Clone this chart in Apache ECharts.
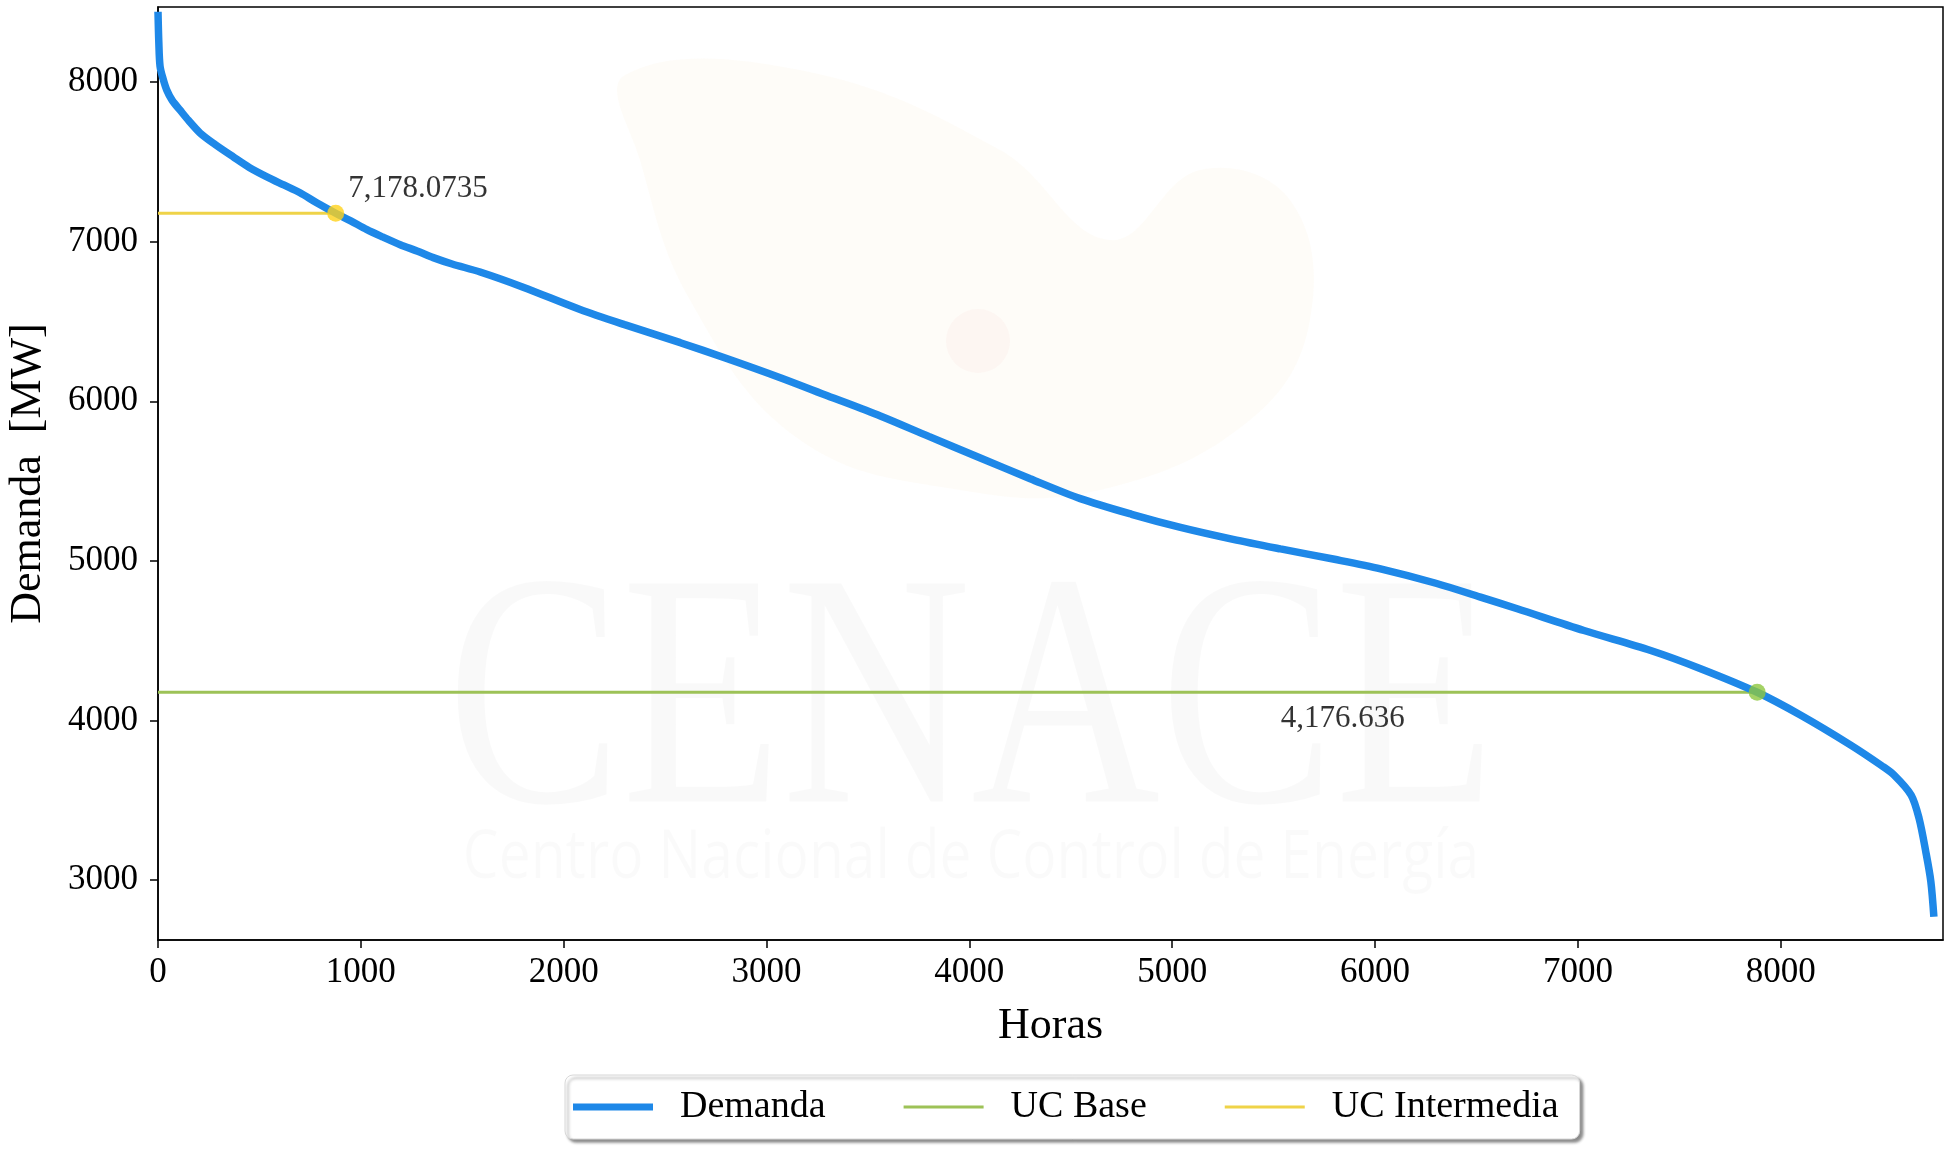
<!DOCTYPE html>
<html lang="es">
<head>
<meta charset="UTF-8">
<title>Curva de duración de la demanda</title>
<script src="https://cdn.jsdelivr.net/npm/echarts@6/dist/echarts.min.js"></script>
<style>
    html, body { margin: 0; padding: 0; background: #fff; }
    #main { width: 1946px; height: 1152px; }
</style>
</head>
<body>
<div id="main"></div>
<script type="text/javascript">
    // datos (horas ordenadas, demanda en MW)
    var horas = [0, 4, 10, 25, 43, 70, 108, 150, 207, 280, 371, 450, 537, 620, 700, 780, 876, 950,
        1030, 1110, 1194, 1280, 1357, 1450, 1588, 1800, 2081, 2300, 2575, 2800, 3068, 3300, 3561,
        3800, 4054, 4300, 4547, 4800, 5041, 5300, 5534, 5800, 6027, 6300, 6520, 6701, 7030, 7359,
        7605, 7884, 8099, 8345, 8500, 8559, 8643, 8682, 8715, 8740, 8755];
    var demanda = [8440, 8250, 8100, 8020, 7950, 7885, 7825, 7760, 7681, 7610, 7531, 7465, 7406, 7355,
        7306, 7245, 7178, 7130, 7075, 7028, 6981, 6940, 6900, 6860, 6810, 6715, 6575, 6480, 6367,
        6270, 6148, 6035, 5908, 5780, 5645, 5515, 5390, 5292, 5210, 5135, 5075, 5010, 4950, 4860,
        4773, 4700, 4564, 4439, 4325, 4177, 4033, 3846, 3715, 3658, 3533, 3387, 3179, 2992, 2770];

    var ucBaseHora = 7884;
    var ucBaseValor = 4176.636;
    var ucIntermediaHora = 876;
    var ucIntermediaValor = 7178.0735;

    var xTicks = [0, 1000, 2000, 3000, 4000, 5000, 6000, 7000, 8000];
    var yTicks = [3000, 4000, 5000, 6000, 7000, 8000];

    var serif = '"Liberation Serif", "DejaVu Serif", serif';

    var curva = [];
    for (var i = 0; i < horas.length; i++) {
        curva.push([horas[i], demanda[i]]);
    }

    function fmt(v) {
        return v.toLocaleString('en-US', {maximumFractionDigits: 4});
    }

    var myChart = echarts.init(document.getElementById('main'));

    var option = {
        animation: false,
        backgroundColor: '#fff',
        grid: {
            left: 158,
            right: 3,
            top: 7,
            bottom: 212,
            show: true,
            borderColor: '#000',
            borderWidth: 1.5,
            outerBoundsMode: 'none'
        },
        // marca de agua CENACE (muy tenue)
        graphic: [
            {
                type: 'polygon', z: -5, silent: true,
                shape: {
                    points: [[625, 75], [800, 70], [1000, 150], [1110, 240], [1200, 170], [1290, 200],
                        [1310, 320], [1250, 420], [1100, 490], [960, 490], [800, 440], [690, 300], [640, 160]],
                    smooth: 0.4
                },
                style: {fill: 'rgba(240,190,120,0.05)'}
            },
            {
                type: 'circle', z: -4, silent: true,
                shape: {cx: 978, cy: 341, r: 32},
                style: {fill: 'rgba(230,140,140,0.05)'}
            },
            {
                type: 'text', z: -5, silent: true,
                x: 971, y: 714, scaleY: 1.27,
                style: {
                    text: 'CENACE', x: 0, y: 0, align: 'center', verticalAlign: 'middle',
                    font: '262px ' + serif, fill: 'rgba(0,0,0,0.022)'
                }
            },
            {
                type: 'text', z: -5, silent: true,
                x: 971, y: 859, scaleY: 1.2,
                style: {
                    text: 'Centro Nacional de Control de Energía', x: 0, y: 0,
                    align: 'center', verticalAlign: 'middle',
                    font: '57px "Open Sans", sans-serif', fill: 'rgba(0,0,0,0.02)'
                }
            }
        ],
        legend: {
            data: [
                {name: 'Demanda', icon: 'path://M0,0H80V7H0Z'},
                {name: 'UC Base', icon: 'path://M0,0H80V3H0Z'},
                {name: 'UC Intermedia', icon: 'path://M0,0H80V3H0Z'}
            ],
            left: 565,
            top: 1075,
            orient: 'horizontal',
            itemWidth: 80,
            itemHeight: 14,
            itemGap: 78,
            padding: [13, 21, 13, 8],
            backgroundColor: '#fff',
            borderColor: '#d8d8d8',
            borderWidth: 1,
            borderRadius: 8,
            shadowColor: 'rgba(0,0,0,0.45)',
            shadowBlur: 3,
            shadowOffsetX: 3,
            shadowOffsetY: 3,
            textStyle: {
                fontFamily: serif,
                fontSize: 38,
                color: '#000',
                padding: [0, 0, 0, 22]
            }
        },
        xAxis: {
            type: 'value',
            min: 0,
            max: 8800,
            name: 'Horas',
            nameLocation: 'middle',
            nameGap: 64,
            nameTextStyle: {fontFamily: serif, fontSize: 44, color: '#000'},
            axisLine: {show: true, onZero: false, lineStyle: {color: '#000', width: 1.5}},
            axisTick: {show: true, length: 8, customValues: xTicks, lineStyle: {color: '#000', width: 1.5}},
            axisLabel: {
                customValues: xTicks, margin: 15, fontFamily: serif, fontSize: 35, color: '#000',
                formatter: function (v) { return String(v); }
            },
            splitLine: {show: false}
        },
        yAxis: {
            type: 'value',
            min: 2625,
            max: 8470,
            name: 'Demanda  [MW]',
            nameLocation: 'middle',
            nameGap: 108,
            nameMoveOverlap: false,
            nameTextStyle: {fontFamily: serif, fontSize: 44, color: '#000'},
            axisLine: {show: true, onZero: false, lineStyle: {color: '#000', width: 1.5}},
            axisTick: {show: true, length: 8, customValues: yTicks, lineStyle: {color: '#000', width: 1.5}},
            axisLabel: {
                customValues: yTicks, margin: 20, fontFamily: serif, fontSize: 35, color: '#000',
                formatter: function (v) { return String(v); }
            },
            splitLine: {show: false}
        },
        series: [
            {
                name: 'UC Intermedia',
                type: 'line',
                symbol: 'none',
                z: 2,
                lineStyle: {color: '#EFD348', width: 3},
                itemStyle: {color: '#EFD348'},
                data: [[0, ucIntermediaValor], [ucIntermediaHora, ucIntermediaValor]]
            },
            {
                name: 'UC Base',
                type: 'line',
                symbol: 'none',
                z: 2,
                lineStyle: {color: '#9DC257', width: 3},
                itemStyle: {color: '#9DC257'},
                data: [[0, ucBaseValor], [ucBaseHora, ucBaseValor]]
            },
            {
                name: 'Demanda',
                type: 'line',
                symbol: 'none',
                smooth: 0.3,
                z: 3,
                lineStyle: {color: '#1E88E8', width: 7.5, cap: 'butt'},
                itemStyle: {color: '#1E88E8'},
                data: curva
            },
            {
                name: 'puntos',
                type: 'scatter',
                symbolSize: 17,
                z: 4,
                label: {
                    show: true,
                    fontFamily: serif,
                    fontSize: 31,
                    color: '#000',
                    textBorderWidth: 0,
                    formatter: function (p) { return fmt(p.value[1]); }
                },
                data: [
                    {
                        value: [ucIntermediaHora, ucIntermediaValor],
                        itemStyle: {color: '#FFD21A'},
                        label: {position: 'right', align: 'left', verticalAlign: 'middle', offset: [-1, -24]}
                    },
                    {
                        value: [ucBaseHora, ucBaseValor],
                        itemStyle: {color: '#8DC73F'},
                        label: {position: 'left', align: 'right', verticalAlign: 'middle', offset: [-339, 27]}
                    }
                ]
            }
        ]
    };

    myChart.setOption(option);
    window.addEventListener('resize', function () {
        myChart.resize();
    });
</script>
</body>
</html>
